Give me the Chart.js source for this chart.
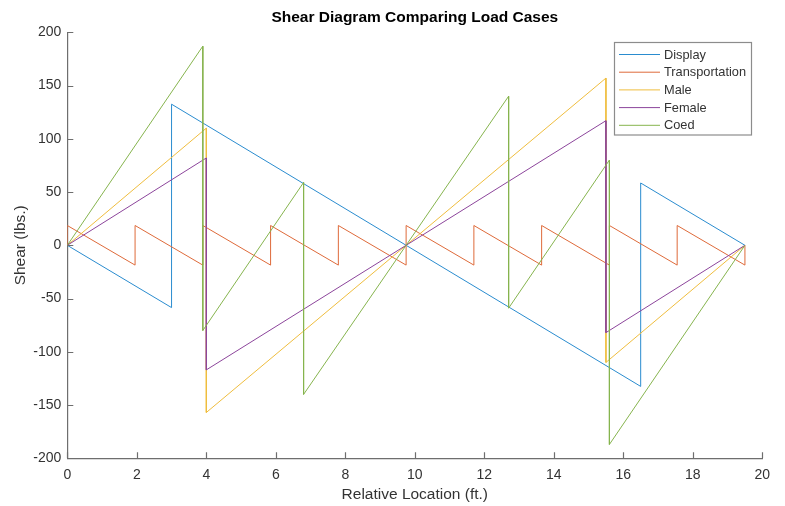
<!DOCTYPE html>
<html lang="en">
<head>
  <meta charset="UTF-8">
  <title>Shear Diagram Comparing Load Cases</title>
  <script src="https://cdn.jsdelivr.net/npm/chart.js"></script>
  <style>
    html, body { margin: 0; padding: 0; background: #fff; }
    #wrap { width: 785px; height: 506px; }
  </style>
</head>
<body>
  <div id="wrap"><canvas id="shear"></canvas></div>
  <script>
    // Data (x in ft, shear in lbs.)
    const displayX = [0, 3, 3, 16.5, 16.5, 19.5];
    const displayY = [0, -58.5, 132.5, -132.5, 58.5, 0];

    const transportX = [0, 0, 1.95, 1.95, 3.9, 3.9, 5.85, 5.85, 7.8, 7.8, 9.75, 9.75,
      11.7, 11.7, 13.65, 13.65, 15.6, 15.6, 17.55, 17.55, 19.5, 19.5];
    const transportY = [0, 18.6, -18.6, 18.6, -18.6, 18.6, -18.6, 18.6, -18.6, 18.6, -18.6, 18.6,
      -18.6, 18.6, -18.6, 18.6, -18.6, 18.6, -18.6, 18.6, -18.6, 0];

    const maleX = [0, 4, 4, 15.5, 15.5, 19.5];
    const maleY = [0, 110, -157, 157, -110, 0];

    const femaleX = [0, 4, 4, 15.5, 15.5, 19.5];
    const femaleY = [0, 82, -117, 117, -82, 0];

    const coedX = [0, 3.9, 3.9, 6.8, 6.8, 12.7, 12.7, 15.6, 15.6, 19.5];
    const coedY = [0, 187, -80, 59, -140, 140, -59, 80, -187, 0];

    const seriesNames = ['Display', 'Transportation', 'Male', 'Female', 'Coed'];
    const seriesColors = ['#2a8ccf', '#de6a3a', '#efbd3e', '#8c459b', '#86b44e'];

    const xTicks = [0, 2, 4, 6, 8, 10, 12, 14, 16, 18, 20];
    const yTicks = [-200, -150, -100, -50, 0, 50, 100, 150, 200];

    const FONT = 'Arial, "Liberation Sans", Helvetica, sans-serif';
    const AXIS_COLOR = '#6e6e6e';
    const TEXT_COLOR = '#333333';

    function toPoints(xs, ys) {
      return xs.map((x, i) => ({ x: x, y: ys[i] }));
    }

    const allSeries = [
      toPoints(displayX, displayY),
      toPoints(transportX, transportY),
      toPoints(maleX, maleY),
      toPoints(femaleX, femaleY),
      toPoints(coedX, coedY)
    ];

    // MATLAB-ish extras: inward ticks, title, axis labels, boxed legend
    const matlabLook = {
      id: 'matlabLook',
      afterDraw(chart) {
        const ctx = chart.ctx;
        const xs = chart.scales.x;
        const ys = chart.scales.y;
        const area = chart.chartArea;
        const tickLen = 6;

        ctx.save();
        ctx.strokeStyle = AXIS_COLOR;
        ctx.lineWidth = 1.2;
        ctx.beginPath();
        xs.ticks.forEach(t => {
          const px = Math.round(xs.getPixelForValue(t.value)) + 0.5;
          ctx.moveTo(px, area.bottom);
          ctx.lineTo(px, area.bottom - tickLen);
        });
        ys.ticks.forEach(t => {
          const py = Math.round(ys.getPixelForValue(t.value)) + 0.5;
          ctx.moveTo(area.left, py);
          ctx.lineTo(area.left + tickLen, py);
        });
        ctx.stroke();

        // Title
        ctx.fillStyle = '#000';
        ctx.font = 'bold 15.5px ' + FONT;
        ctx.textAlign = 'center';
        ctx.textBaseline = 'middle';
        ctx.fillText('Shear Diagram Comparing Load Cases', (area.left + area.right) / 2, 18);

        // Axis labels
        ctx.fillStyle = TEXT_COLOR;
        ctx.font = '15.5px ' + FONT;
        ctx.fillText('Relative Location (ft.)', (area.left + area.right) / 2, 495);
        ctx.save();
        ctx.translate(21, (area.top + area.bottom) / 2);
        ctx.rotate(-Math.PI / 2);
        ctx.fillText('Shear (lbs.)', 0, 0);
        ctx.restore();

        // Legend box
        const lx = 614.5, ly = 42.5, lw = 137, lh = 92.5;
        ctx.fillStyle = '#fff';
        ctx.fillRect(lx, ly, lw, lh);
        ctx.strokeStyle = '#8c8c8c';
        ctx.lineWidth = 1.2;
        ctx.strokeRect(lx, ly, lw, lh);
        ctx.font = '12.8px ' + FONT;
        ctx.textAlign = 'left';
        chart.data.datasets.forEach((ds, i) => {
          const y = 54.5 + i * 17.7;
          ctx.strokeStyle = ds.borderColor;
          ctx.lineWidth = 1;
          ctx.beginPath();
          ctx.moveTo(619, y);
          ctx.lineTo(660, y);
          ctx.stroke();
          ctx.fillStyle = TEXT_COLOR;
          ctx.fillText(ds.label, 664, y + 0.5);
        });
        ctx.restore();
      }
    };

    const ctx = document.getElementById('shear').getContext('2d');
    new Chart(ctx, {
      type: 'scatter',
      data: {
        datasets: allSeries.map((pts, i) => ({
          label: seriesNames[i],
          data: pts,
          showLine: true,
          borderColor: seriesColors[i],
          backgroundColor: seriesColors[i],
          borderWidth: 1,
          pointRadius: 0,
          pointHoverRadius: 0,
          tension: 0,
          order: allSeries.length - i
        }))
      },
      options: {
        responsive: true,
        maintainAspectRatio: false,
        animation: false,
        events: [],
        layout: { padding: { left: 0, right: 22.7, top: 32.3, bottom: 0 } },
        plugins: {
          legend: { display: false },
          title: { display: false },
          tooltip: { enabled: false }
        },
        scales: {
          x: {
            type: 'linear',
            min: 0,
            max: 20,
            afterBuildTicks: s => { s.ticks = xTicks.map(v => ({ value: v })); },
            afterFit: s => { s.height = 506 - 458.3; },
            grid: { display: false, drawTicks: false },
            border: { display: true, color: AXIS_COLOR, width: 1.2 },
            ticks: {
              padding: 8,
              color: TEXT_COLOR,
              font: { family: FONT, size: 14 },
              maxRotation: 0,
              autoSkip: false
            }
          },
          y: {
            type: 'linear',
            min: -200,
            max: 200,
            afterBuildTicks: s => { s.ticks = yTicks.map(v => ({ value: v })); },
            afterFit: s => { s.width = 67.3; },
            grid: { display: false, drawTicks: false },
            border: { display: true, color: AXIS_COLOR, width: 1.2 },
            ticks: {
              padding: 6,
              color: TEXT_COLOR,
              font: { family: FONT, size: 14 },
              autoSkip: false
            }
          }
        }
      },
      plugins: [matlabLook]
    });
  </script>
</body>
</html>
